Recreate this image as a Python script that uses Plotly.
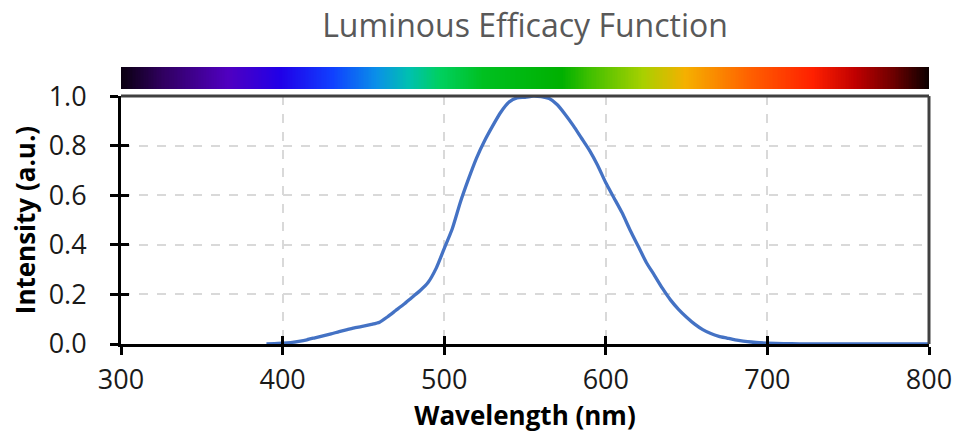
import plotly.graph_objects as go
import numpy as np

wavelength = [390, 395, 400, 405, 410, 415, 420, 425, 430, 435, 440, 445, 450, 455, 460,
              465, 470, 475, 480, 485, 490, 495, 500, 505, 510, 515, 520, 525, 530, 535,
              540, 545, 550, 555, 560, 565, 570, 575, 580, 585, 590, 595, 600, 605, 610,
              615, 620, 625, 630, 635, 640, 645, 650, 655, 660, 665, 670, 675, 680, 685,
              690, 695, 700, 710, 720, 730, 740, 750, 760, 780, 800]
intensity = [0.0004, 0.001, 0.003, 0.006, 0.011, 0.017, 0.025, 0.033, 0.041, 0.050, 0.058,
             0.066, 0.072, 0.079, 0.088, 0.110, 0.135, 0.160, 0.188, 0.215, 0.248, 0.305,
             0.385, 0.465, 0.572, 0.665, 0.750, 0.820, 0.880, 0.935, 0.975, 0.993, 0.995,
             1.000, 0.998, 0.990, 0.965, 0.925, 0.880, 0.830, 0.780, 0.720, 0.650, 0.590,
             0.530, 0.460, 0.395, 0.330, 0.278, 0.225, 0.178, 0.140, 0.108, 0.080, 0.058,
             0.042, 0.031, 0.024, 0.017, 0.012, 0.008, 0.005, 0.0035, 0.0018, 0.0009,
             0.0005, 0.0002, 0.0001, 0.00005, 0.00002, 0.00001]

spectrum_nm = [300, 326, 366, 399, 431, 458, 478, 497, 524, 573, 590, 623, 649, 689, 728, 754, 777, 800]
spectrum_colors = ["#0a0010", "#300060", "#5000c0", "#2000e8", "#1040ff", "#0a90e8", "#00c0b0",
                   "#00d060", "#00c020", "#00b000", "#40c000", "#a8d000", "#f5b000", "#ff6000",
                   "#ff2000", "#c00000", "#700000", "#0a0000"]

x_ticks = [300, 400, 500, 600, 700, 800]
y_ticks = [0.0, 0.2, 0.4, 0.6, 0.8, 1.0]

colorscale = [[(w - 300) / 500, c] for w, c in zip(spectrum_nm, spectrum_colors)]
bar_x = np.linspace(300, 800, 501)

fig = go.Figure()
fig.add_trace(go.Heatmap(x=bar_x, y=[0], z=[bar_x], colorscale=colorscale, showscale=False,
                         xaxis="x2", yaxis="y2", hoverinfo="skip"))
fig.add_trace(go.Scatter(x=wavelength, y=intensity, mode="lines",
                         line=dict(color="#4472C4", width=3.3, shape="spline", smoothing=0.6),
                         showlegend=False))

tickfont = dict(family="Open Sans", size=27, color="#1a1a1a")
fig.update_layout(
    width=955, height=437,
    margin=dict(l=121, r=26, t=67, b=93),
    paper_bgcolor="white", plot_bgcolor="white",
    title=dict(text="Luminous Efficacy Function", x=0.5, xref="paper", xanchor="center",
               y=0.94, yanchor="middle",
               font=dict(family="Open Sans", size=32, color="#595959")),
    xaxis=dict(range=[300, 800], tickvals=x_ticks, ticktext=[str(v) for v in x_ticks],
               showline=True, linecolor="black", linewidth=3, ticks="outside", ticklen=8,
               tickwidth=3, tickcolor="black", showgrid=True, gridcolor="#d9d9d9",
               griddash="dash", gridwidth=1.5, zeroline=False, tickfont=tickfont,
               ticklabelstandoff=2, automargin=False,
               title=dict(text="<b>Wavelength (nm)</b>", standoff=2,
                          font=dict(family="Open Sans", size=26, color="black")),
               domain=[0, 1], anchor="y"),
    yaxis=dict(range=[0, 1.0], tickvals=y_ticks, ticktext=[f"{v:.1f}" for v in y_ticks],
               showline=True, linecolor="black", linewidth=3, ticks="outside", ticklen=8,
               tickwidth=3, tickcolor="black", showgrid=True, gridcolor="#d9d9d9",
               griddash="dash", gridwidth=1.5, zeroline=False, tickfont=tickfont,
               ticklabelstandoff=18, automargin=False,
               title=dict(text="<b>Intensity (a.u.)</b>", standoff=6,
                          font=dict(family="Open Sans", size=26, color="black")),
               domain=[0, 0.895], anchor="x"),
    xaxis2=dict(range=[300, 800], domain=[0, 1], anchor="y2", visible=False),
    yaxis2=dict(range=[-0.5, 0.5], domain=[0.9206, 1.0], anchor="x2", visible=False),
    xaxis3=dict(range=[300, 800], overlaying="x", anchor="y", tickvals=x_ticks,
                showticklabels=False, ticks="inside", ticklen=8, tickwidth=3,
                tickcolor="black", showgrid=False, zeroline=False, showline=False,
                automargin=False),
    yaxis3=dict(range=[0, 1.0], overlaying="y", anchor="x", tickvals=y_ticks,
                showticklabels=False, ticks="inside", ticklen=8, tickwidth=3,
                tickcolor="black", showgrid=False, zeroline=False, showline=False,
                automargin=False),
    shapes=[
        dict(type="line", xref="x domain", yref="y domain", x0=0, x1=1, y0=1, y1=1,
             line=dict(color="#404040", width=3)),
        dict(type="line", xref="x domain", yref="y domain", x0=1, x1=1, y0=0, y1=1,
             line=dict(color="#404040", width=3)),
    ],
)
fig.add_trace(go.Scatter(x=[300], y=[0], xaxis="x3", yaxis="y3", mode="markers",
                         marker=dict(opacity=0), showlegend=False, hoverinfo="skip"))

fig.write_html("out.html")
